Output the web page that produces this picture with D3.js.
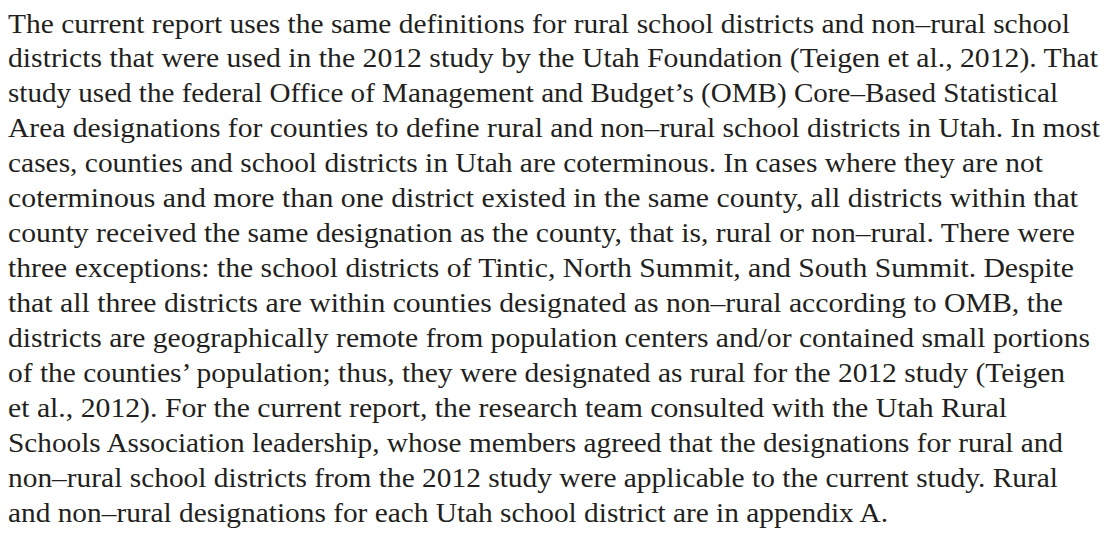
<!DOCTYPE html>
<html>
<head>
<meta charset="utf-8">
<script src="https://cdn.jsdelivr.net/npm/d3@7"></script>
<style>
  html, body { margin: 0; padding: 0; background: #fff; }
  svg { display: block; }
</style>
</head>
<body>
<svg id="page"></svg>
<script>
// paragraph, one entry per printed line
const lines = [
    "The current report uses the same definitions for rural school districts and non-rural school",
    "districts that were used in the 2012 study by the Utah Foundation (Teigen et al., 2012). That",
    "study used the federal Office of Management and Budget\u2019s (OMB) Core-Based Statistical",
    "Area designations for counties to define rural and non-rural school districts in Utah. In most",
    "cases, counties and school districts in Utah are coterminous. In cases where they are not",
    "coterminous and more than one district existed in the same county, all districts within that",
    "county received the same designation as the county, that is, rural or non-rural. There were",
    "three exceptions: the school districts of Tintic, North Summit, and South Summit. Despite",
    "that all three districts are within counties designated as non-rural according to OMB, the",
    "districts are geographically remote from population centers and/or contained small portions",
    "of the counties\u2019 population; thus, they were designated as rural for the 2012 study (Teigen",
    "et al., 2012). For the current report, the research team consulted with the Utah Rural",
    "Schools Association leadership, whose members agreed that the designations for rural and",
    "non-rural school districts from the 2012 study were applicable to the current study. Rural",
    "and non-rural designations for each Utah school district are in appendix A."
];
// right edge of each line
const lineEnds = [1070, 1098, 1058, 1100, 1043, 1078, 1075, 1074, 1063, 1090, 1065, 1007, 1063, 1058, 888];

const width = 1105, height = 536;
const left = 8;

const svg = d3.select("#page").attr("width", width).attr("height", height);

const y = d3.scalePoint()
    .domain(d3.range(lines.length))
    .range([32.5, 521.5]);

const x = d3.scaleLinear().domain([0, width]).range([0, width]);

svg.append("g")
    .attr("font-family", "'Liberation Serif', 'DejaVu Serif', serif")
    .attr("font-size", 27.5)
    .attr("fill", "#231f20")
    .selectAll("text")
    .data(lines)
    .join("text")
    .attr("x", x(left))
    .attr("y", (d, i) => y(i))
    .attr("textLength", (d, i) => x(lineEnds[i]) - x(left))
    .attr("lengthAdjust", "spacingAndGlyphs")
    .text(d => d.replace(/-/g, "\u2013"));
</script>
</body>
</html>
